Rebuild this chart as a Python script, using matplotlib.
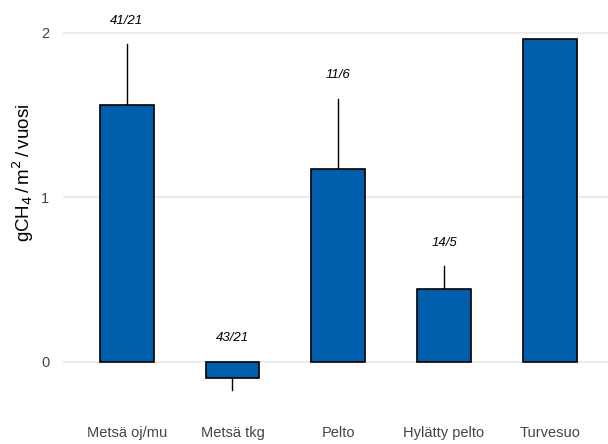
import numpy as np
import matplotlib
matplotlib.use("Agg")
import matplotlib.pyplot as plt

plt.rcParams['font.family'] = ['Liberation Sans', 'DejaVu Sans']

# data
categories = ["Metsä oj/mu", "Metsä tkg", "Pelto", "Hylätty pelto", "Turvesuo"]
means = [1.56, -0.10, 1.17, 0.44, 1.96]
errors = [0.37, 0.07, 0.43, 0.14, 0.0]
counts = ["41/21", "43/21", "11/6", "14/5", ""]

bar_color = "#005fad"

fig = plt.figure(figsize=(6.08, 4.44), dpi=100)
ax = fig.add_axes([0.104, 0.074, 0.896, 0.926])

x = np.arange(len(categories))
ax.bar(x, means, width=0.51, color=bar_color, edgecolor="black", linewidth=1.2, zorder=3)

# one-sided error bars, pointing away from zero
for xi, m, e in zip(x, means, errors):
    if e > 0:
        end = m + e if m >= 0 else m - e
        ax.plot([xi, xi], [m, end], color="black", lw=1.0, zorder=2)

# n labels above each bar
for xi, m, e, c in zip(x, means, errors, counts):
    if not c:
        continue
    top = m + e if m >= 0 else 0
    ax.annotate(c, (xi, top), xytext=(0, 17), textcoords="offset points",
                ha="center", va="center", fontsize=9.5, style="italic")

ax.set_xlim(-0.6, 4.55)
ax.set_ylim(-0.3, 2.2)
ax.set_yticks([0, 1, 2])
ax.set_xticks(x)
ax.set_xticklabels(categories)
ax.grid(axis="y", color="#ebebeb", lw=1.5, zorder=0)
ax.set_axisbelow(True)
for s in ax.spines.values():
    s.set_visible(False)
ax.tick_params(axis="both", length=0, labelsize=10.5, colors="#444444")
ax.tick_params(axis="x", pad=11)
ax.tick_params(axis="y", pad=10)
ax.set_ylabel("gCH$_4\\,$/$\\,$m$^2\\,$/$\\,$vuosi", fontsize=13.5)
ax.yaxis.set_label_coords(-0.05, 0.58)

fig.savefig("out.png", dpi=100)
